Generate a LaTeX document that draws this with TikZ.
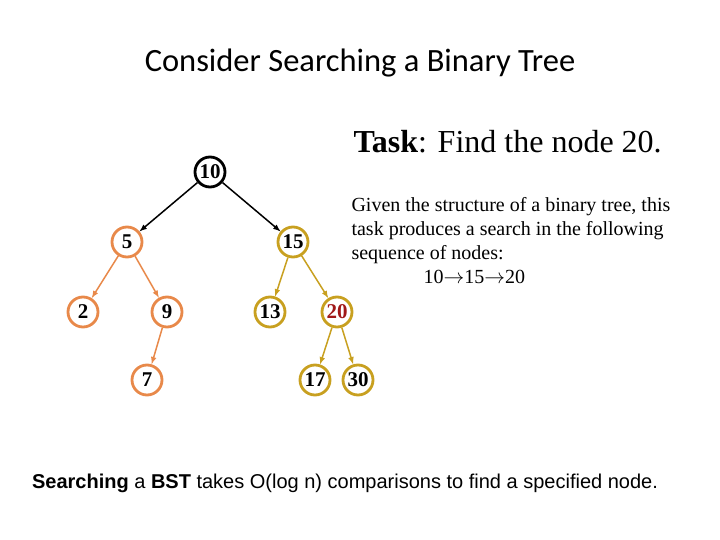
\documentclass[tikz,border=0pt]{standalone}
\usepackage{fontspec}
\setmainfont{Liberation Serif}
\newfontfamily\carl{Carlito}
\newfontfamily\arial{Liberation Sans}
\definecolor{orng}{HTML}{E8894A}
\definecolor{gold}{HTML}{C8A020}
\definecolor{dred}{HTML}{A01818}
\begin{document}
\begin{tikzpicture}[x=1pt,y=-1pt,>=latex,
 tn/.style={circle,line width=2.8pt,minimum size=30pt,inner sep=0pt,font=\fontsize{21}{21}\selectfont\bfseries},
 on/.style={tn,draw=orng},gn/.style={tn,draw=gold},
 oe/.style={->,orng,line width=1.5pt},ge/.style={->,gold,line width=1.5pt}]
\useasboundingbox (0,0) rectangle (720,540);
\node[font=\carl\fontsize{32.5}{32.5}\selectfont] (title) at (360,63) {Consider Searching a Binary Tree};
\node[font=\fontsize{32}{32}\selectfont,anchor=west] (task) at (350,142) {\textbf{Task}: Find the node 20.};
\node[tn,draw=black] (n10) at (210,172) {10};
\node[on] (n5) at (127,242) {5};
\node[gn] (n15) at (293,242) {15};
\node[on] (n2) at (83,312) {2};
\node[on] (n9) at (167,312) {9};
\node[on] (n7) at (147,380) {7};
\node[gn] (n13) at (270,312) {13};
\node[gn,text=dred] (n20) at (337,312) {20};
\node[gn] (n17) at (315,380) {17};
\node[gn] (n30) at (358,380) {30};
\draw[->,line width=1.5pt] (n10) -- (n5);
\draw[->,line width=1.5pt] (n10) -- (n15);
\draw[oe] (n5) -- (n2); \draw[oe] (n5) -- (n9); \draw[oe] (n9) -- (n7);
\draw[ge] (n15) -- (n13); \draw[ge] (n15) -- (n20);
\draw[ge] (n20) -- (n17); \draw[ge] (n20) -- (n30);
\node[anchor=north west,align=left,font=\fontsize{20}{24}\selectfont] (desc) at (348,194)
 {Given the structure of a binary tree, this\\task produces a search in the following\\sequence of nodes:\\\hspace*{72pt}10$\rightarrow$15$\rightarrow$20};
\node[font=\arial\fontsize{20}{20}\selectfont] (foot) at (345,483) {\textbf{Searching} a \textbf{BST} takes O(log n) comparisons to find a specified node.};
\end{tikzpicture}
\end{document}
